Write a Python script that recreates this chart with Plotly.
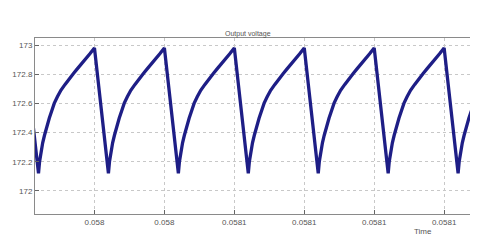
import plotly.graph_objects as go

# Time (s) and output voltage (V) (one sawtooth per 20 us)
time_s = [
    0.0580000, 0.0580040, 0.0580043, 0.0580047, 0.0580052, 0.0580057, 0.0580064, 0.0580071, 0.0580078, 0.0580085, 0.0580094, 0.0580104, 0.0580116, 0.0580128, 0.0580140, 0.0580152, 0.0580163, 0.0580175, 0.0580187,
    0.0580200, 0.0580240, 0.0580243, 0.0580247, 0.0580252, 0.0580257, 0.0580264, 0.0580271, 0.0580278, 0.0580285, 0.0580294, 0.0580304, 0.0580316, 0.0580328, 0.0580340, 0.0580352, 0.0580363, 0.0580375, 0.0580387,
    0.0580400, 0.0580440, 0.0580443, 0.0580447, 0.0580452, 0.0580457, 0.0580464, 0.0580471, 0.0580478, 0.0580485, 0.0580494, 0.0580504, 0.0580516, 0.0580528, 0.0580540, 0.0580552, 0.0580563, 0.0580575, 0.0580587,
    0.0580600, 0.0580640, 0.0580643, 0.0580647, 0.0580652, 0.0580657, 0.0580664, 0.0580671, 0.0580678, 0.0580685, 0.0580694, 0.0580704, 0.0580716, 0.0580728, 0.0580740, 0.0580752, 0.0580763, 0.0580775, 0.0580787,
    0.0580800, 0.0580840, 0.0580843, 0.0580847, 0.0580852, 0.0580857, 0.0580864, 0.0580871, 0.0580878, 0.0580885, 0.0580894, 0.0580904, 0.0580916, 0.0580928, 0.0580940, 0.0580952, 0.0580963, 0.0580975, 0.0580987,
    0.0581000, 0.0581040, 0.0581043, 0.0581047, 0.0581052, 0.0581057, 0.0581064, 0.0581071, 0.0581078, 0.0581085, 0.0581094, 0.0581104, 0.0581116, 0.0581128, 0.0581140, 0.0581152, 0.0581163, 0.0581175, 0.0581187,
    0.0581200, 0.0581240, 0.0581243, 0.0581247, 0.0581252, 0.0581257, 0.0581264, 0.0581271, 0.0581278,
]
voltage = [
    172.98, 172.12, 172.20, 172.27, 172.33, 172.38, 172.445, 172.50, 172.55, 172.60, 172.645, 172.69, 172.73, 172.77, 172.805, 172.84, 172.87, 172.90, 172.94,
    172.98, 172.12, 172.20, 172.27, 172.33, 172.38, 172.445, 172.50, 172.55, 172.60, 172.645, 172.69, 172.73, 172.77, 172.805, 172.84, 172.87, 172.90, 172.94,
    172.98, 172.12, 172.20, 172.27, 172.33, 172.38, 172.445, 172.50, 172.55, 172.60, 172.645, 172.69, 172.73, 172.77, 172.805, 172.84, 172.87, 172.90, 172.94,
    172.98, 172.12, 172.20, 172.27, 172.33, 172.38, 172.445, 172.50, 172.55, 172.60, 172.645, 172.69, 172.73, 172.77, 172.805, 172.84, 172.87, 172.90, 172.94,
    172.98, 172.12, 172.20, 172.27, 172.33, 172.38, 172.445, 172.50, 172.55, 172.60, 172.645, 172.69, 172.73, 172.77, 172.805, 172.84, 172.87, 172.90, 172.94,
    172.98, 172.12, 172.20, 172.27, 172.33, 172.38, 172.445, 172.50, 172.55, 172.60, 172.645, 172.69, 172.73, 172.77, 172.805, 172.84, 172.87, 172.90, 172.94,
    172.98, 172.12, 172.20, 172.27, 172.33, 172.38, 172.445, 172.50, 172.55,
]

x_tick_vals = [0.05802, 0.05804, 0.05806, 0.05808, 0.05810, 0.05812]
x_tick_text = ["0.058", "0.058", "0.0581", "0.0581", "0.0581", "0.0581"]
y_tick_vals = [172.0, 172.2, 172.4, 172.6, 172.8, 173.0]
y_tick_text = ["172", "172.2", "172.4", "172.6", "172.8", "173"]

font_family = "Liberation Sans, Arial, sans-serif"

fig = go.Figure()
fig.add_trace(go.Scatter(
    x=time_s, y=voltage, mode="lines",
    line=dict(color="#1e1e86", width=3.3),
    showlegend=False, hoverinfo="skip",
))

fig.update_layout(
    width=483, height=245,
    margin=dict(l=32, r=13, t=38, b=31),
    paper_bgcolor="white", plot_bgcolor="white",
    font=dict(family=font_family, size=8, color="#555555"),
    annotations=[
        dict(text="Output voltage", xref="paper", yref="paper", x=0.49, y=1.0,
             xanchor="center", yanchor="bottom", yshift=-2, showarrow=False,
             font=dict(size=7, color="#555555")),
        dict(text="Time", xref="paper", yref="paper", x=0.893, y=0.0,
             xanchor="center", yanchor="middle", yshift=-17, showarrow=False,
             font=dict(size=8, color="#555555")),
    ],
)
fig.update_xaxes(
    range=[0.0580030, 0.0581274],
    tickmode="array", tickvals=x_tick_vals, ticktext=x_tick_text,
    showgrid=True, gridcolor="#c8c8c8", griddash="dot", gridwidth=1,
    showline=True, linecolor="#8a8a8a", linewidth=1, mirror=True,
    ticks="inside", ticklen=4, tickcolor="#666666",
    zeroline=False,
)
fig.update_yaxes(
    range=[171.842, 173.048],
    tickmode="array", tickvals=y_tick_vals, ticktext=y_tick_text,
    showgrid=True, gridcolor="#c8c8c8", griddash="dot", gridwidth=1,
    showline=True, linecolor="#8a8a8a", linewidth=1, mirror=False,
    ticks="inside", ticklen=4, tickcolor="#666666",
    zeroline=False,
)

fig.write_html("out.html")
